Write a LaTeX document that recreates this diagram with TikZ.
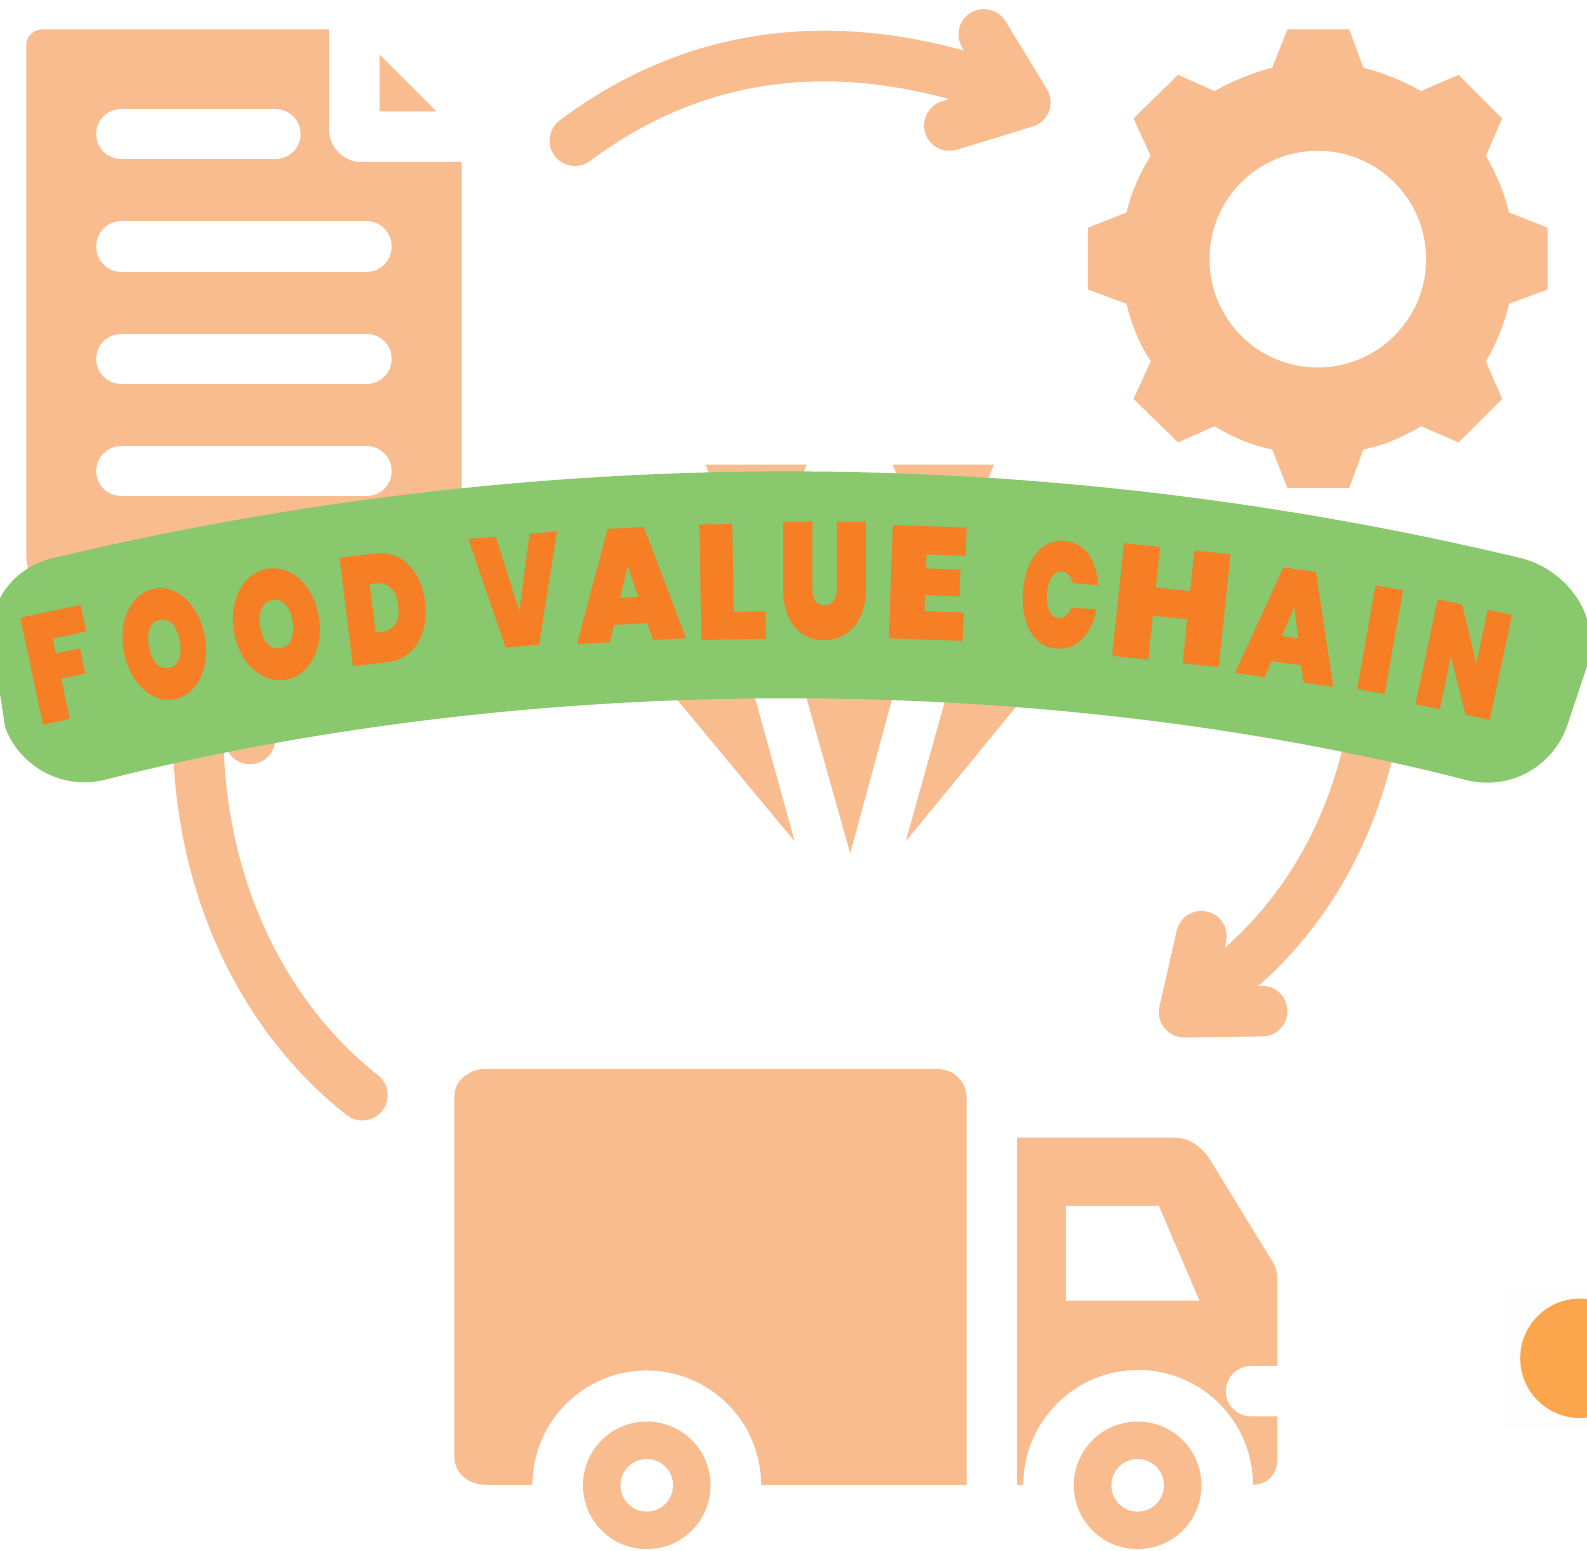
\documentclass[tikz,border=0pt]{standalone}
\usepackage{graphicx}
\usepackage{fontspec}
\newfontfamily\bannerfont[UprightFont=* Black]{Poppins}
\definecolor{peach}{HTML}{F8BC8E}
\definecolor{bannergreen}{HTML}{8AC86D}
\definecolor{lettering}{HTML}{F67E24}
\definecolor{dotorange}{HTML}{FBA64C}
\definecolor{faint}{HTML}{FDFDFD}
\newdimen\pxu \pxu=0.010121cm
\tikzset{
  peachfill/.style={fill=peach,draw=none},
  hole/.style={fill=white,draw=none},
  bar/.style={draw=white,line width=50\pxu,line cap=round},
  band/.style={draw=peach,line width=50\pxu,line cap=round,line join=round},
  bannerletter/.style={inner sep=0pt,outer sep=0pt,text=lettering,font=\bannerfont}
}
\newcommand{\lettr}[7]{\node[bannerletter,rotate=#4] (#7) at (#1,#2) {\resizebox{#5\pxu}{#6\pxu}{#3}};}
\begin{document}
\begin{tikzpicture}[x=0.010121cm,y=-0.010121cm]
\useasboundingbox (0,0) rectangle (1568,1532);
\clip (0,0) rectangle (1568,1532);
\fill[white] (0,0) rectangle (1568,1532);
% document
\path[peachfill] (26,45) .. controls (26,35) and (34,29) .. (42,29) -- (325,29) -- (325,128) arc (180:90:32) -- (456,160) -- (456,600) -- (46,600) .. controls (34,575) and (26,570) .. (26,545) -- cycle;
\path[peachfill] (375,54) -- (431,110) -- (375,110) -- cycle;
\draw[bar] (120,132.5) -- (272,132.5);
\draw[bar] (120,243.5) -- (362,243.5);
\draw[bar] (120,354.5) -- (362,354.5);
\draw[bar] (120,465.5) -- (362,465.5);
% top arrow
\draw[band] (568,139) .. controls (700,40) and (850,35) .. (1000,92);
\draw[band] (972,34) -- (1013,101) -- (938,124);
% gear
\path[peachfill] (1257,67) -- (1272,29) -- (1333,29) -- (1347,67)
 .. controls (1367,72) and (1386,80) .. (1404,90) -- (1441,74) -- (1484,117) -- (1468,154)
 .. controls (1478,171) and (1486,190) .. (1491,210) -- (1529,225) -- (1529,286) -- (1491,300)
 .. controls (1486,321) and (1478,340) .. (1468,357) -- (1484,394) -- (1441,437) -- (1404,421)
 .. controls (1386,432) and (1367,440) .. (1347,444) -- (1333,482) -- (1272,482) -- (1257,444)
 .. controls (1237,440) and (1218,432) .. (1200,421) -- (1164,437) -- (1120,394) -- (1137,357)
 .. controls (1126,340) and (1118,321) .. (1113,300) -- (1075,286) -- (1075,225) -- (1113,210)
 .. controls (1118,190) and (1126,171) .. (1137,154) -- (1120,117) -- (1164,74) -- (1200,90)
 .. controls (1218,80) and (1237,72) .. (1257,67) -- cycle;
\path[hole] (1302,256) circle (107);
% wedges
\path[peachfill] (697,459) -- (797,459) -- (780,500) -- (714,500) -- cycle;
\path[peachfill] (882,459) -- (982,459) -- (965,500) -- (899,500) -- cycle;
\path[peachfill] (785,831) -- (668,690) -- (640,650) -- (735,650) -- cycle;
\path[peachfill] (840,843) -- (797,690) -- (786,650) -- (892,650) -- (881,692) -- cycle;
\path[peachfill] (895,831) -- (933,695) -- (945,650) -- (1040,650) -- (1004,698) -- cycle;
% side arrows
\draw[band] (196,700) .. controls (190,870) and (260,1005) .. (358,1082);
\path[peachfill] (247,730) circle (25);
\draw[band] (1360,700) .. controls (1343,810) and (1295,895) .. (1227,955) -- (1175,1000);
\draw[band] (1187,925) -- (1170,1000) -- (1247,999);
% truck body
\path[peachfill] (449,1082) .. controls (449,1068) and (464,1056) .. (480,1056) -- (925,1056) .. controls (942,1056) and (955,1068) .. (955,1085) -- (955,1467) -- (752,1467) arc (0:-180:113) -- (480,1467) .. controls (464,1467) and (449,1456) .. (449,1440) -- cycle;
\path[peachfill] (639,1467.5) circle (63);
\path[hole] (639,1467.5) circle (26);
% cab
\path[peachfill] (1005,1124) -- (1160,1124) .. controls (1175,1124) and (1187,1133) .. (1195,1145) -- (1255,1243) .. controls (1260,1250) and (1262,1256) .. (1262,1264) -- (1262,1349.5) -- (1236,1349.5) arc (-90:-270:25) -- (1262,1399.5) -- (1262,1443) .. controls (1262,1456) and (1252,1467) .. (1238,1467) arc (0:-180:113.5) -- (1005,1467) -- cycle;
\path[hole] (1053,1191.5) -- (1145,1191.5) -- (1185,1285) -- (1053,1285) -- cycle;
\path[peachfill] (1124,1467.5) circle (63);
\path[hole] (1124,1467.5) circle (26);
% orange dot
\fill[faint] (1486,1273) rectangle (1568,1411);
\fill[dotorange] (1561,1342) circle (59);
% banner
\path[fill=bannergreen] (50,552) .. controls (530,437) and (1026,437) .. (1505,552)
 .. controls (1540,562) and (1562,590) .. (1568,612) -- (1568,658) -- (1549,715)
 .. controls (1538,750) and (1500,782) .. (1450,771)
 .. controls (1030,663) and (530,663) .. (105,770)
 .. controls (60,782) and (18,755) .. (5,718) -- (0,685) -- (0,591)
 .. controls (10,572) and (28,558) .. (50,552) -- cycle;
% lettering
\lettr{60}{658}{F}{12}{70}{108}{l1}
\lettr{163}{637}{O}{10}{88}{110}{l2}
\lettr{274}{617}{O}{9}{92}{110}{l3}
\lettr{380}{601}{D}{7}{88}{108}{l4}
\lettr{512}{584}{V}{5}{88}{110}{l5}
\lettr{622}{578}{A}{3}{108}{112}{l6}
\lettr{722}{575}{L}{1}{74}{114}{l7}
\lettr{815}{574}{U}{0}{94}{116}{l8}
\lettr{916}{576}{E}{-2}{86}{112}{l9}
\lettr{1048}{588}{C}{-4}{80}{106}{l10}
\lettr{1158}{598}{H}{-6}{122}{112}{l11}
\lettr{1277}{618}{A}{-8}{98}{110}{l12}
\lettr{1364}{632}{I}{-10}{40}{104}{l13}
\lettr{1447}{652}{N}{-12}{86}{106}{l14}
\end{tikzpicture}
\end{document}
